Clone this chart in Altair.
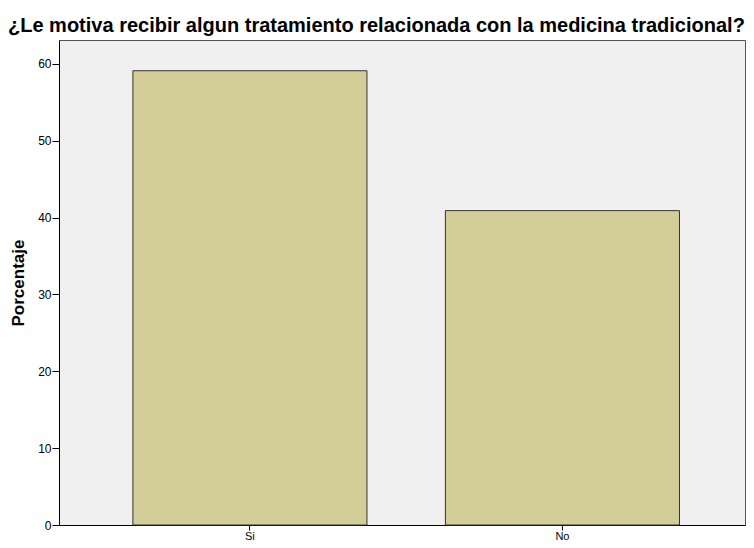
import altair as alt
import pandas as pd

categories = ["Si", "No"]
values = [59.1, 40.9]

df = pd.DataFrame({"cat": categories, "pct": values})

chart = alt.Chart(df).mark_bar(
    fill="#D3CE97", stroke="#333333", strokeWidth=1
).encode(
    x=alt.X("cat:N", sort=categories, title=None,
            scale=alt.Scale(paddingInner=0.251, paddingOuter=0.223, align=0.53),
            axis=alt.Axis(labelAngle=0, labelFont="Liberation Sans", labelFontSize=11,
                          labelColor="#000", tickColor="#000", tickSize=5,
                          domainColor="#000", labelPadding=0)),
    y=alt.Y("pct:Q", title="Porcentaje",
            scale=alt.Scale(domain=[0, 63.1], nice=False, zero=True),
            axis=alt.Axis(values=[0, 10, 20, 30, 40, 50, 60], grid=False,
                          labelFont="Liberation Sans", labelFontSize=12, labelColor="#000",
                          tickColor="#000", tickSize=7, domainColor="#000",
                          titleFont="Liberation Sans", titleFontSize=17, titleFontWeight="bold",
                          titleColor="#000", titlePadding=10, labelPadding=1)),
).properties(
    width=686, height=485,
    padding={"left": 51, "top": 32, "right": 1, "bottom": 15},
    autosize=alt.AutoSizeParams(type="none"),
    title=alt.TitleParams(
        "¿Le motiva recibir algun  tratamiento relacionada con la medicina tradicional?",
        font="Liberation Sans", fontSize=20, fontWeight="bold", color="#000",
        anchor="start", frame="group", dx=-51, offset=4),
).configure_view(
    fill="#F0F0F0", stroke="#555555", strokeWidth=1
)

chart.save("out.html", embed_options={"renderer": "svg", "actions": False})
